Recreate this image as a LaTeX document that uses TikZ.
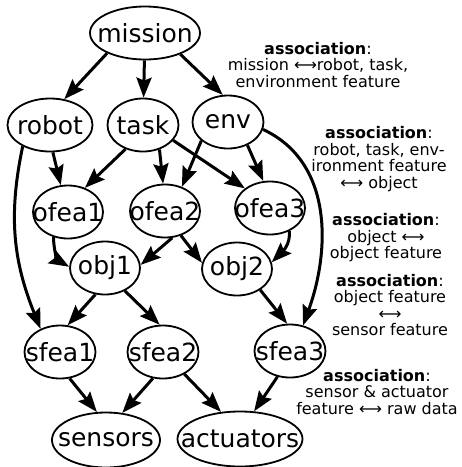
\documentclass[tikz,border=0pt]{standalone}
\usepackage{fontspec}
\setmainfont{DejaVu Sans}
\usetikzlibrary{shapes.geometric}
\usetikzlibrary{arrows.meta}

\begin{document}
\begin{tikzpicture}[x=1pt, y=-1pt,
  concept/.style={draw, ellipse, line width=1.8pt, inner xsep=-20pt, inner ysep=0pt,
    minimum height=53pt, font=\fontsize{25}{30}\selectfont},
  note/.style={align=center, inner sep=0pt, font=\fontsize{16}{16.5}\selectfont},
  link/.style={->, line width=3pt, >={Stealth[length=20pt, width=15pt, inset=3pt]}}]

  \useasboundingbox (0,0) rectangle (462,467);

  % Define nodes
  \node[concept, minimum width=110pt] (mission) at (145,33) {mission};
  \node[concept, minimum width=85pt] (robot) at (50,125) {robot};
  \node[concept, minimum width=71pt] (task) at (143,125) {task};
  \node[concept, minimum width=71pt] (env) at (228,122) {env};
  \node[concept, minimum width=70pt] (ofea1) at (68,212) {ofea1};
  \node[concept, minimum width=70pt] (ofea2) at (165,211) {ofea2};
  \node[concept, minimum width=70pt] (ofea3) at (270,208) {ofea3};
  \node[concept, minimum width=70pt] (obj1) at (105,268) {obj1};
  \node[concept, minimum width=70pt] (obj2) at (237,269) {obj2};
  \node[concept, minimum width=71pt] (sfea1) at (60,352) {sfea1};
  \node[concept, minimum width=71pt] (sfea2) at (163,352) {sfea2};
  \node[concept, minimum width=71pt] (sfea3) at (290,351) {sfea3};
  \node[concept, minimum width=108pt, minimum height=55pt] (sensors) at (106,440) {sensors};
  \node[concept, minimum width=125pt, minimum height=55pt] (actuators) at (240,439) {actuators};

  % Association notes
  \node[note] (assoc1) at (318,65) {\textbf{association}:\\mission ⟷robot, task,\\environment feature};
  \node[note] (assoc2) at (379,159) {\textbf{association}:\\robot, task, env-\\ironment feature\\⟷ object};
  \node[note] (assoc3) at (386,238) {\textbf{association}:\\object ⟷\\object feature};
  \node[note] (assoc4) at (390,305) {\textbf{association}:\\object feature\\⟷\\sensor feature};
  \node[note] (assoc5) at (377,392) {\textbf{association}:\\sensor \& actuator\\feature ⟷ raw data};

  % Connect the nodes
  \draw [link] (mission.208) -- (robot.61);
  \draw [link] (mission) -- (task);
  \draw [link] (mission.-31) -- (env.101);
  \draw [link] (robot.-84) -- (ofea1.105);
  \draw [link] (task.234) -- (ofea1.55);
  \draw [link] (task.-56) -- (ofea2.94);
  \draw [link] (task.-27) -- (ofea3.142);
  \draw [link] (env.215) -- (ofea2.55);
  \draw [link] (env.-50) -- (ofea3.104);
  \draw [link] (robot.218) to[out=-102, in=112] (sfea1.130);
  \draw [link] (env.-12) to[out=-25, in=70] (sfea3.63);
  \draw [link] (ofea1.240) to[out=-90, in=150] (obj1.178);
  \draw [link] (ofea2.-75) -- (obj1.5);
  \draw [link] (ofea2.-57) -- (obj2.170);
  \draw [link] (ofea3.-50) to[out=-85, in=45] (obj2.11);
  \draw [link] (obj1.250) -- (sfea1.74);
  \draw [link] (obj1.-49) -- (sfea2.97);
  \draw [link] (obj2.-42) -- (sfea3.96);
  \draw [link] (sfea1.-70) -- (sensors.108);
  \draw [link] (sfea2.249) -- (sensors.59);
  \draw [link] (sfea2.-46) -- (actuators.125);
  \draw [link] (sfea3.244) -- (actuators.63);

\end{tikzpicture}
\end{document}
